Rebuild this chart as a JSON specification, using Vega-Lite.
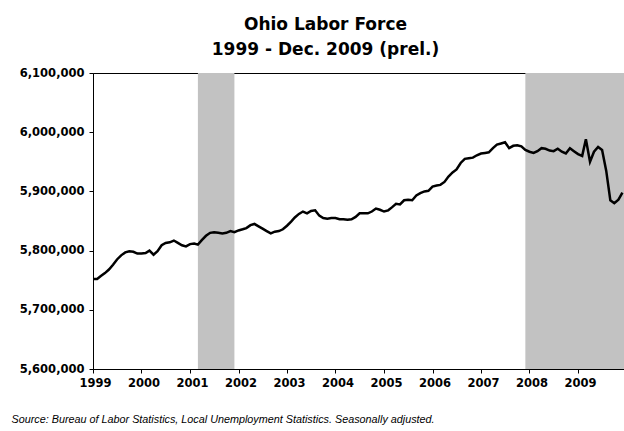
{
  "$schema": "https://vega.github.io/schema/vega-lite/v6.json",
  "autosize": "none",
  "width": 531,
  "height": 296,
  "padding": {"left": 93, "top": 73, "right": 0, "bottom": 62},
  "background": "white",
  "title": {
    "text": ["Ohio Labor Force", "1999 - Dec. 2009 (prel.)"],
    "font": "DejaVu Sans",
    "fontWeight": "bold",
    "fontSize": 17,
    "lineHeight": 25,
    "color": "#000",
    "anchor": "middle",
    "dx": -33,
    "offset": 8
  },
  "layer": [
    {
      "data": {"values": [
        {"start": "2001-03-01", "end": "2001-12-01"},
        {"start": "2007-12-01", "end": "2010-01-01"}
      ]},
      "mark": {"type": "rect", "color": "#c2c2c2", "clip": true},
      "encoding": {
        "x": {"field": "start", "type": "temporal"},
        "x2": {"field": "end"}
      }
    },
    {
      "data": {"values": [
        {"date": "1999-01-01", "v": 5752000}, {"date": "1999-02-01", "v": 5752000}, {"date": "1999-03-01", "v": 5757000}, {"date": "1999-04-01", "v": 5762000},
        {"date": "1999-05-01", "v": 5768000}, {"date": "1999-06-01", "v": 5776000}, {"date": "1999-07-01", "v": 5785000}, {"date": "1999-08-01", "v": 5792000},
        {"date": "1999-09-01", "v": 5797000}, {"date": "1999-10-01", "v": 5799000}, {"date": "1999-11-01", "v": 5798000}, {"date": "1999-12-01", "v": 5795000},
        {"date": "2000-01-01", "v": 5795000}, {"date": "2000-02-01", "v": 5796000}, {"date": "2000-03-01", "v": 5800000}, {"date": "2000-04-01", "v": 5793000},
        {"date": "2000-05-01", "v": 5799000}, {"date": "2000-06-01", "v": 5809000}, {"date": "2000-07-01", "v": 5813000}, {"date": "2000-08-01", "v": 5814000},
        {"date": "2000-09-01", "v": 5817000}, {"date": "2000-10-01", "v": 5813000}, {"date": "2000-11-01", "v": 5809000}, {"date": "2000-12-01", "v": 5807000},
        {"date": "2001-01-01", "v": 5811000}, {"date": "2001-02-01", "v": 5812000}, {"date": "2001-03-01", "v": 5810000}, {"date": "2001-04-01", "v": 5818000},
        {"date": "2001-05-01", "v": 5825000}, {"date": "2001-06-01", "v": 5830000}, {"date": "2001-07-01", "v": 5831000}, {"date": "2001-08-01", "v": 5830000},
        {"date": "2001-09-01", "v": 5829000}, {"date": "2001-10-01", "v": 5830000}, {"date": "2001-11-01", "v": 5833000}, {"date": "2001-12-01", "v": 5831000},
        {"date": "2002-01-01", "v": 5834000}, {"date": "2002-02-01", "v": 5836000}, {"date": "2002-03-01", "v": 5838000}, {"date": "2002-04-01", "v": 5843000},
        {"date": "2002-05-01", "v": 5845000}, {"date": "2002-06-01", "v": 5841000}, {"date": "2002-07-01", "v": 5837000}, {"date": "2002-08-01", "v": 5833000},
        {"date": "2002-09-01", "v": 5829000}, {"date": "2002-10-01", "v": 5832000}, {"date": "2002-11-01", "v": 5833000}, {"date": "2002-12-01", "v": 5836000},
        {"date": "2003-01-01", "v": 5842000}, {"date": "2003-02-01", "v": 5849000}, {"date": "2003-03-01", "v": 5856000}, {"date": "2003-04-01", "v": 5862000},
        {"date": "2003-05-01", "v": 5866000}, {"date": "2003-06-01", "v": 5863000}, {"date": "2003-07-01", "v": 5867000}, {"date": "2003-08-01", "v": 5868000},
        {"date": "2003-09-01", "v": 5859000}, {"date": "2003-10-01", "v": 5855000}, {"date": "2003-11-01", "v": 5854000}, {"date": "2003-12-01", "v": 5855000},
        {"date": "2004-01-01", "v": 5855000}, {"date": "2004-02-01", "v": 5853000}, {"date": "2004-03-01", "v": 5853000}, {"date": "2004-04-01", "v": 5852000},
        {"date": "2004-05-01", "v": 5853000}, {"date": "2004-06-01", "v": 5857000}, {"date": "2004-07-01", "v": 5863000}, {"date": "2004-08-01", "v": 5863000},
        {"date": "2004-09-01", "v": 5863000}, {"date": "2004-10-01", "v": 5866000}, {"date": "2004-11-01", "v": 5871000}, {"date": "2004-12-01", "v": 5869000},
        {"date": "2005-01-01", "v": 5866000}, {"date": "2005-02-01", "v": 5868000}, {"date": "2005-03-01", "v": 5873000}, {"date": "2005-04-01", "v": 5879000},
        {"date": "2005-05-01", "v": 5878000}, {"date": "2005-06-01", "v": 5885000}, {"date": "2005-07-01", "v": 5886000}, {"date": "2005-08-01", "v": 5885000},
        {"date": "2005-09-01", "v": 5893000}, {"date": "2005-10-01", "v": 5897000}, {"date": "2005-11-01", "v": 5900000}, {"date": "2005-12-01", "v": 5901000},
        {"date": "2006-01-01", "v": 5908000}, {"date": "2006-02-01", "v": 5910000}, {"date": "2006-03-01", "v": 5911000}, {"date": "2006-04-01", "v": 5916000},
        {"date": "2006-05-01", "v": 5925000}, {"date": "2006-06-01", "v": 5932000}, {"date": "2006-07-01", "v": 5937000}, {"date": "2006-08-01", "v": 5948000},
        {"date": "2006-09-01", "v": 5955000}, {"date": "2006-10-01", "v": 5956000}, {"date": "2006-11-01", "v": 5957000}, {"date": "2006-12-01", "v": 5961000},
        {"date": "2007-01-01", "v": 5964000}, {"date": "2007-02-01", "v": 5965000}, {"date": "2007-03-01", "v": 5966000}, {"date": "2007-04-01", "v": 5973000},
        {"date": "2007-05-01", "v": 5979000}, {"date": "2007-06-01", "v": 5981000}, {"date": "2007-07-01", "v": 5983000}, {"date": "2007-08-01", "v": 5973000},
        {"date": "2007-09-01", "v": 5977000}, {"date": "2007-10-01", "v": 5978000}, {"date": "2007-11-01", "v": 5976000}, {"date": "2007-12-01", "v": 5970000},
        {"date": "2008-01-01", "v": 5967000}, {"date": "2008-02-01", "v": 5965000}, {"date": "2008-03-01", "v": 5968000}, {"date": "2008-04-01", "v": 5973000},
        {"date": "2008-05-01", "v": 5972000}, {"date": "2008-06-01", "v": 5969000}, {"date": "2008-07-01", "v": 5968000}, {"date": "2008-08-01", "v": 5972000},
        {"date": "2008-09-01", "v": 5967000}, {"date": "2008-10-01", "v": 5964000}, {"date": "2008-11-01", "v": 5973000}, {"date": "2008-12-01", "v": 5968000},
        {"date": "2009-01-01", "v": 5963000}, {"date": "2009-02-01", "v": 5960000}, {"date": "2009-03-01", "v": 5988000}, {"date": "2009-04-01", "v": 5950000},
        {"date": "2009-05-01", "v": 5967000}, {"date": "2009-06-01", "v": 5975000}, {"date": "2009-07-01", "v": 5970000}, {"date": "2009-08-01", "v": 5935000},
        {"date": "2009-09-01", "v": 5885000}, {"date": "2009-10-01", "v": 5880000}, {"date": "2009-11-01", "v": 5886000}, {"date": "2009-12-01", "v": 5898000}
      ]},
      "mark": {"type": "line", "color": "#000", "strokeWidth": 2.5, "clip": true},
      "encoding": {
        "x": {
          "field": "date",
          "type": "temporal",
          "scale": {"domain": [{"year": 1999, "month": 1, "date": 1}, {"year": 2009, "month": 12, "date": 13}]},
          "axis": {
            "title": "Source: Bureau of Labor Statistics, Local Unemployment Statistics. Seasonally adjusted.",
            "titleFont": "Liberation Sans",
            "titleFontStyle": "italic",
            "titleFontWeight": "normal",
            "titleFontSize": 10.8,
            "titleColor": "#000",
            "titleAnchor": "start",
            "titleAlign": "left",
            "titleBaseline": "alphabetic",
            "titleX": -82,
            "titleY": 53,
            "format": "%Y",
            "tickCount": {"interval": "year", "step": 1},
            "grid": false,
            "tickSize": 4,
            "tickColor": "#000",
            "domainColor": "#000",
            "labelFont": "DejaVu Sans",
            "labelFontWeight": "bold",
            "labelFontSize": 11.5,
            "labelColor": "#000",
            "labelPadding": 4,
            "labelOffset": 2,
            "labelFlush": false,
            "labelOverlap": false
          }
        },
        "y": {
          "field": "v",
          "type": "quantitative",
          "scale": {"domain": [5600000, 6100000], "nice": false, "zero": false},
          "axis": {
            "title": null,
            "values": [5600000, 5700000, 5800000, 5900000, 6000000, 6100000],
            "format": ",d",
            "grid": false,
            "tickSize": 4,
            "tickColor": "#000",
            "domainColor": "#000",
            "labelFont": "DejaVu Sans",
            "labelFontWeight": "bold",
            "labelFontSize": 11.5,
            "labelColor": "#000",
            "labelPadding": 5
          }
        }
      }
    }
  ],
  "config": {
    "view": {"stroke": "#000", "strokeWidth": 1}
  }
}
